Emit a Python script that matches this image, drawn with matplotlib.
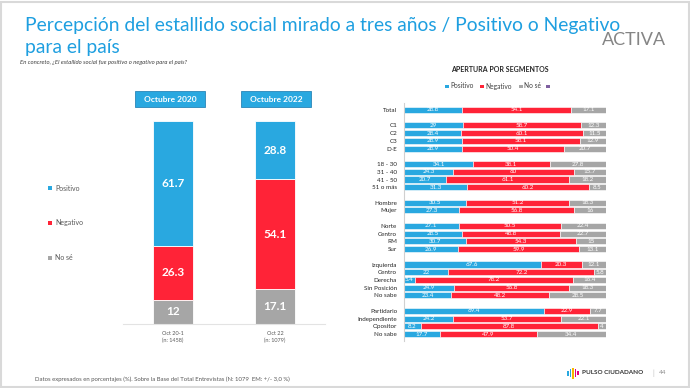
import matplotlib.pyplot as plt
from matplotlib.patches import Rectangle
import numpy as np

plt.rcParams['font.family'] = ['Lato', 'DejaVu Sans']

BLUE = '#29A8E0'
RED = '#FF2337'
GRAY = '#A6A6A6'
PURPLE = '#7F5FA0'
TITLE = '#1E9FE0'

# left chart
periods = ['Octubre 2020', 'Octubre 2022']
period_ticks = ['Oct 20-1\n(n: 1458)', 'Oct 22\n(n: 1079)']
pos_total = [61.7, 28.8]
neg_total = [26.3, 54.1]
ns_total = [12, 17.1]

# right chart
segments = ['Total',
            'C1', 'C2', 'C3', 'D-E',
            '18 - 30', '31 - 40', '41 - 50', '51 o más',
            'Hombre', 'Mujer',
            'Norte', 'Centro', 'RM', 'Sur',
            'Izquierda', 'Centro', 'Derecha', 'Sin Posición', 'No sabe',
            'Partidario', 'Independiente', 'Opositor', 'No sabe']
group_sizes = [1, 4, 4, 2, 4, 5, 4]
seg_pos = [28.8, 29, 28.4, 28.9, 28.9, 34.1, 24.3, 20.7, 31.3, 30.5, 27.3,
           27.1, 28.5, 30.7, 26.9, 67.6, 22, 5.4, 24.9, 23.4, 69.4, 24.2, 8.2, 17.7]
seg_neg = [54.1, 58.7, 60.1, 58.1, 50.4, 38.1, 60, 61.1, 60.2, 51.2, 56.8,
           50.5, 48.8, 54.3, 59.9, 20.3, 72.2, 78.2, 56.8, 48.2, 22.9, 53.7, 87.8, 47.9]
seg_ns = [17.1, 12.3, 11.5, 12.9, 20.7, 27.8, 15.7, 18.2, 8.5, 18.3, 16,
          22.4, 22.7, 15, 13.1, 12.1, 5.8, 16.4, 18.3, 28.5, 7.7, 22.1, 4, 34.4]

W, H = 690, 388
fig = plt.figure(figsize=(6.9, 3.88), dpi=100)


def fx(px):
    return px / W


def fy(py):
    return 1 - py / H


# frame
fig.patches.append(Rectangle((0.002, 0.002), 0.996, 0.994, transform=fig.transFigure,
                             fill=False, edgecolor='#D9D9D9', lw=1.5))

fig.text(fx(25), fy(25), 'Percepción del estallido social mirado a tres años / Positivo o Negativo',
         color=TITLE, fontsize=13.9, va='center', ha='left')
fig.text(fx(25), fy(47), 'para el país', color=TITLE, fontsize=13.9, va='center', ha='left')
fig.text(fx(20), fy(62), 'En concreto, ¿El estallido social fue positivo o negativo para el país?',
         fontsize=4.3, style='italic', color='#404040', va='center')
fig.text(fx(634), fy(40), 'ACTIVA', fontsize=13, color='#858585', ha='center', va='center')

# left stacked bars
axl = fig.add_axes([fx(123), fy(324), fx(325 - 123), (324 - 121) / H])
x = np.arange(len(periods))
bw = 0.39
b0 = np.array(ns_total)
b1 = b0 + np.array(neg_total)
axl.bar(x, ns_total, bw, color=GRAY, edgecolor='white', lw=0.6)
axl.bar(x, neg_total, bw, bottom=b0, color=RED, edgecolor='white', lw=0.6)
axl.bar(x, pos_total, bw, bottom=b1, color=BLUE, edgecolor='white', lw=0.6)
for i in x:
    for bottom, val in [(0, ns_total[i]), (b0[i], neg_total[i]), (b1[i], pos_total[i])]:
        axl.text(i, bottom + val / 2, f'{val:g}', color='white', fontsize=8.5,
                 fontweight='bold', ha='center', va='center')
axl.set_xlim(-0.49, 1.49)
axl.set_ylim(0, 100)
for s in ['top', 'right', 'left']:
    axl.spines[s].set_visible(False)
axl.spines['bottom'].set_color('#E3E3E3')
axl.set_yticks([])
axl.set_xticks(x)
axl.set_xticklabels(period_ticks, fontsize=4, color='#595959', linespacing=1.5)
axl.tick_params(axis='x', length=0, pad=5)

# period headers
for cx, lab in zip([170, 276], periods):
    fig.patches.append(Rectangle((fx(cx - 35), fy(107)), fx(70), 16 / H, transform=fig.transFigure,
                                 facecolor=BLUE, edgecolor='#2A86B8', lw=0.6))
    fig.text(fx(cx), fy(99), lab, color='white', fontsize=6, fontweight='bold',
             ha='center', va='center')

# left legend
for py, lab, c in [(188, 'Positivo', BLUE), (223, 'Negativo', RED), (258, 'No sé', GRAY)]:
    fig.patches.append(Rectangle((fx(47.5), fy(py + 2)), fx(4), 4 / H, transform=fig.transFigure,
                                 facecolor=c, lw=0))
    fig.text(fx(55), fy(py), lab, fontsize=5, color='#595959', va='center')

# right chart
ypos = []
cur = 0
for g in group_sizes:
    ypos.extend(range(cur, cur + g))
    cur += g + 1
ypos = np.array(ypos)

axr = fig.add_axes([fx(404), fy(341), fx(606 - 404), (341 - 103) / H])
p = np.array(seg_pos)
n = np.array(seg_neg)
s_ = np.array(seg_ns)
bh = 0.78
axr.barh(ypos, p, bh, color=BLUE, edgecolor='white', lw=0.4)
axr.barh(ypos, n, bh, left=p, color=RED, edgecolor='white', lw=0.4)
axr.barh(ypos, s_, bh, left=p + n, color=GRAY, edgecolor='white', lw=0.4)
for yy, a, b, c in zip(ypos, p, n, s_):
    for left, val in [(0, a), (a, b), (a + b, c)]:
        axr.text(left + val / 2, yy, f'{val:g}', color='white', fontsize=4.5,
                 ha='center', va='center')
axr.set_xlim(0, 100)
axr.set_ylim(ypos[-1] + 0.9, -0.9)
for s in ['top', 'right', 'bottom']:
    axr.spines[s].set_visible(False)
axr.spines['left'].set_color('#D0D0D0')
axr.set_xticks([])
axr.set_yticks(ypos)
axr.set_yticklabels(segments, fontsize=4.5, color='#262626')
axr.tick_params(axis='y', length=0, pad=5)

fig.text(fx(500), fy(69), 'APERTURA POR SEGMENTOS', fontsize=5, fontweight='bold',
         color='#262626', ha='center', va='center')

# right legend
for px, lab, c in [(447, 'Positivo', BLUE), (482, 'Negativo', RED), (521, 'No sé', GRAY), (548, '', PURPLE)]:
    fig.patches.append(Rectangle((fx(px - 2), fy(88)), fx(3.5), 3.5 / H, transform=fig.transFigure,
                                 facecolor=c, lw=0))
    if lab:
        fig.text(fx(px + 3), fy(86), lab, fontsize=4.8, color='#404040', va='center')

# footer
fig.text(fx(35), fy(379), 'Datos expresados en porcentajes (%). Sobre la Base del Total Entrevistas (N: 1079  EM: +/- 3,0 %)',
         fontsize=4.3, color='#595959', va='center')

# pulso ciudadano logo
for dx, h, c in [(0, 5, '#29A8E0'), (2.5, 8, '#29A8E0'), (5, 11, '#F5B800'), (7.5, 8, '#E5007D'), (10, 4, '#E5007D')]:
    fig.patches.append(Rectangle((fx(567 + dx), fy(373 + h / 2)), fx(1.5), h / H,
                                 transform=fig.transFigure, facecolor=c, lw=0))
fig.text(fx(582), fy(373), 'PULSO CIUDADANO', fontsize=4.6, fontweight='bold',
         color='#333333', va='center')
fig.text(fx(652), fy(373), '|', fontsize=5, color='#BFBFBF', va='center')
fig.text(fx(659), fy(373), '44', fontsize=4.6, color='#8C8C8C', va='center')

fig.savefig('out.png', dpi=100)
